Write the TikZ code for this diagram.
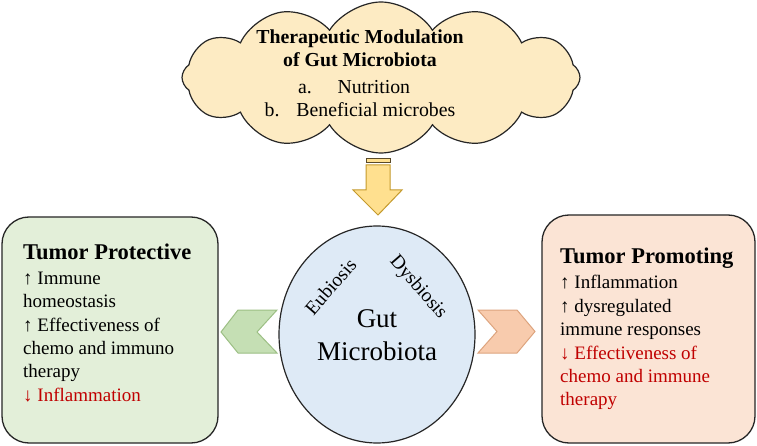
\documentclass[tikz,border=0pt]{standalone}
\usepackage{fontspec}
\setmainfont{Liberation Serif}
\usetikzlibrary{shapes.geometric,shapes.symbols}
\definecolor{cloudfill}{HTML}{FDEBC3}
\definecolor{arrowfill}{HTML}{FFE08F}
\definecolor{arrowdraw}{HTML}{C49A2C}
\definecolor{stripecol}{HTML}{5A4A28}
\definecolor{gutfill}{HTML}{DEEAF6}
\definecolor{leftfill}{HTML}{E3EFD9}
\definecolor{rightfill}{HTML}{FBE4D5}
\definecolor{chevgreen}{HTML}{C5DFB4}
\definecolor{chevgreendraw}{HTML}{9CBF84}
\definecolor{chevpeach}{HTML}{F8CBAD}
\definecolor{chevpeachdraw}{HTML}{DDA47E}
\definecolor{redtext}{HTML}{C00000}
\begin{document}
\begin{tikzpicture}[x=1pt,y=-1pt,
  outline/.style={draw=black!85, line width=1.3pt},
  boxstyle/.style={outline, rounded corners=27pt, inner sep=0pt},
  boxtext/.style={anchor=north west, align=left, inner sep=0pt, font=\fontsize{19}{23.4}\selectfont},
  chevron/.style={line width=1pt, line join=miter}
]
\useasboundingbox (0,0) rectangle (757,446);
\fill[white] (0,0) rectangle (757,446);

% cloud
\node[cloud, cloud puffs=12, cloud puff arc=115, aspect=2.65, outline, line width=1.2pt, fill=cloudfill,
      minimum width=398pt, minimum height=151pt, inner sep=0pt] (cloud) at (381,77.5) {};
\node[anchor=north, align=center, inner sep=0pt, font=\fontsize{19.8}{23.4}\selectfont] (cloudtext) at (360,29.5)
  {\textbf{Therapeutic Modulation}\\
   \textbf{of Gut Microbiota}\\[3pt]
   \hspace*{-0.6em}a.\hspace{1.3em}Nutrition\\
   b.\hspace{0.85em}Beneficial microbes};

% striped down arrow
\filldraw[fill=arrowfill, draw=stripecol, line width=1pt] (366,159) rectangle (390,163);
\draw[fill=arrowfill, draw=arrowdraw, line width=1pt, line join=miter]
  (366,165) -- (390,165) -- (390,190) -- (402,190) -- (378,215) -- (353,190) -- (366,190) -- cycle;

% gut microbiota ellipse
\node[ellipse, outline, line width=1.2pt, fill=gutfill, minimum width=196pt, minimum height=217pt, inner sep=0pt] (gut) at (377,334.5) {};
\node[align=center, inner sep=0pt, font=\fontsize{27}{33.3}\selectfont] (guttext) at (377,335) {Gut\\Microbiota};
\node[rotate=49, inner sep=0pt, font=\fontsize{19.5}{22}\selectfont] (eub) at (330.5,286.5) {Eubiosis};
\node[rotate=-49, inner sep=0pt, font=\fontsize{19.5}{22}\selectfont] (dys) at (418,287.5) {Dysbiosis};

% chevrons
\draw[chevron, fill=chevgreen, draw=chevgreendraw]
  (221,332) -- (238,310) -- (277,310) -- (257,332) -- (277,353) -- (238,353) -- cycle;
\draw[chevron, fill=chevpeach, draw=chevpeachdraw]
  (478,310) -- (517,310) -- (535,331.5) -- (517,353) -- (478,353) -- (497,331.5) -- cycle;

% boxes
\node[boxstyle, fill=leftfill, minimum width=216pt, minimum height=226pt] (prot) at (110,330) {};
\node[boxstyle, fill=rightfill, minimum width=213pt, minimum height=228pt] (prom) at (648.5,329) {};

\node[boxtext] (prottext) at (23,243.5)
  {{\fontsize{22.5}{27}\selectfont\bfseries Tumor Protective}\\[1.6pt]
   ↑ Immune\\
   homeostasis\\
   ↑ Effectiveness of\\
   chemo and immuno\\
   therapy\\
   \textcolor{redtext}{↓ Inflammation}};

\node[boxtext] (promtext) at (560,248)
  {{\fontsize{22.5}{27}\selectfont\bfseries Tumor Promoting}\\[1.6pt]
   ↑ Inflammation\\
   ↑ dysregulated\\
   immune responses\\
   \textcolor{redtext}{↓ Effectiveness of}\\
   \textcolor{redtext}{chemo and immune}\\
   \textcolor{redtext}{therapy}};
\end{tikzpicture}
\end{document}
